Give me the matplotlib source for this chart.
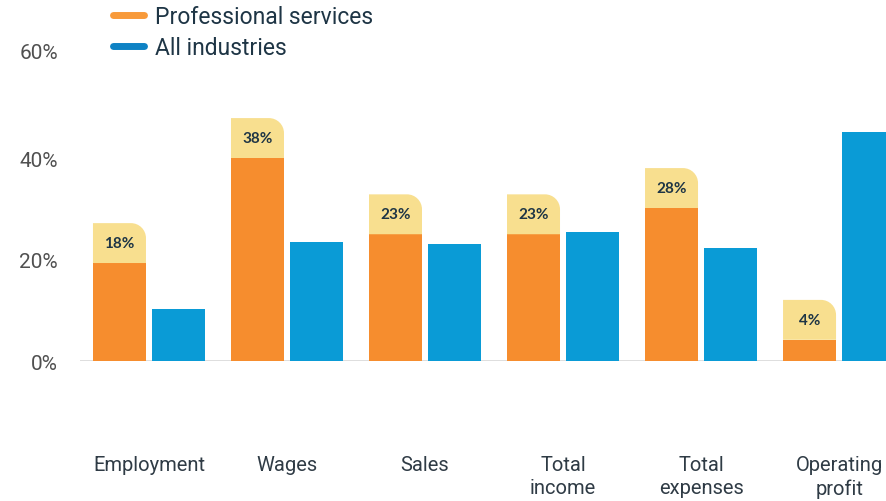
"""
Professional services vs all industries - growth comparison bar chart
"""

import matplotlib.pyplot as plt
import matplotlib.transforms as mtransforms
import numpy as np
from matplotlib.lines import Line2D
from matplotlib.patches import PathPatch
from matplotlib.path import Path


# --- data ---
categories = ["Employment", "Wages", "Sales", "Total\nincome", "Total\nexpenses", "Operating\nprofit"]
professional = [19.4, 40.2, 25.1, 25.1, 30.3, 4.2]
all_industries = [10.3, 23.6, 23.2, 25.5, 22.4, 45.3]
value_labels = ["18%", "38%", "23%", "23%", "28%", "4%"]
yticks = [0, 20, 40, 60]
series_names = ["Professional services", "All industries"]

# --- style ---
ORANGE = "#F68D2E"
BLUE = "#0A9BD6"
YELLOW = "#F8DF8F"
TEXT_DARK = "#1E3545"
TICK_GREY = "#505050"

W, H = 886, 502
BAR_W = 0.384
OFFSET = 0.214
BOX_H = 7.9          # label box height, in data units (%)
R_PX = 15            # radius of the rounded corner, pixels


def rounded_box(ax, x0, y0, w, h, rx, ry, **kw):
    """
    Rectangle with only the top-right corner rounded (elliptical in data units,
    round on screen).
    """
    k = 0.5523
    verts = [
        (x0, y0),
        (x0 + w, y0),
        (x0 + w, y0 + h - ry),
        (x0 + w, y0 + h - ry + k * ry),
        (x0 + w - rx + k * rx, y0 + h),
        (x0 + w - rx, y0 + h),
        (x0, y0 + h),
        (x0, y0),
    ]
    codes = [Path.MOVETO, Path.LINETO, Path.LINETO,
             Path.CURVE4, Path.CURVE4, Path.CURVE4,
             Path.LINETO, Path.CLOSEPOLY]
    ax.add_patch(PathPatch(Path(verts, codes), **kw))


fig = plt.figure(figsize=(W / 100, H / 100), dpi=100)

# axes: left edge at px 80, right edge at figure edge; 0% at px 362
ax_bottom = (H - 362) / H
ax_top = (H - (362 - 303)) / H
ax = fig.add_axes([80 / W, ax_bottom, 1 - 80 / W, ax_top - ax_bottom])

x = np.arange(len(categories))
ax.bar(x - OFFSET, professional, width=BAR_W, color=ORANGE, zorder=2)
ax.bar(x + OFFSET, all_industries, width=BAR_W, color=BLUE, zorder=2)

ax.set_xlim(-0.5, 5.34)
ax.set_ylim(0, 60)

# pixel -> data conversion for the rounded corner
rx = R_PX / 138
ry = R_PX / 5.05

for xi, val, lab in zip(x, professional, value_labels):
    rounded_box(ax, xi - OFFSET - BAR_W / 2, val, BAR_W, BOX_H, rx, ry,
                facecolor=YELLOW, edgecolor="none", zorder=2)
    ax.text(xi - OFFSET, val + BOX_H / 2, lab, ha="center", va="center",
            fontsize=11, fontweight="bold", color=TEXT_DARK,
            family=["Lato", "DejaVu Sans"], zorder=3)

ax.axhline(0, color="#DADADA", linewidth=2, zorder=1)

for spine in ax.spines.values():
    spine.set_visible(False)

ax.set_yticks(yticks)
ax.set_yticklabels([f"{t}%" for t in yticks], fontsize=15, color=TICK_GREY,
                   family=["Roboto", "DejaVu Sans"])
ax.tick_params(axis="y", length=0, pad=16)

# the top tick label sits a little higher in the original
top_label = ax.get_yticklabels()[-1]
top_label.set_transform(top_label.get_transform()
                        + mtransforms.ScaledTranslation(0, 7 / 100, fig.dpi_scale_trans))

ax.set_xticks(x)
ax.set_xticklabels(categories, fontsize=14.5, color="#2F3B45",
                   family=["Roboto", "DejaVu Sans"],
                   va="top", linespacing=1.25)
ax.tick_params(axis="x", length=0, pad=68)

handles = [
    Line2D([], [], color="#F89A3A", linewidth=5, solid_capstyle="round"),
    Line2D([], [], color="#0E82C4", linewidth=5, solid_capstyle="round"),
]
fig.legend(handles, series_names, loc="upper left",
           bbox_to_anchor=(113 / W, 1 - 6 / H), frameon=False,
           handlelength=1.35, handletextpad=0.5, labelspacing=0.37,
           prop={"family": ["Roboto", "DejaVu Sans"], "size": 16.5},
           labelcolor=TEXT_DARK, borderaxespad=0, borderpad=0)

fig.savefig("out.png", dpi=100)
